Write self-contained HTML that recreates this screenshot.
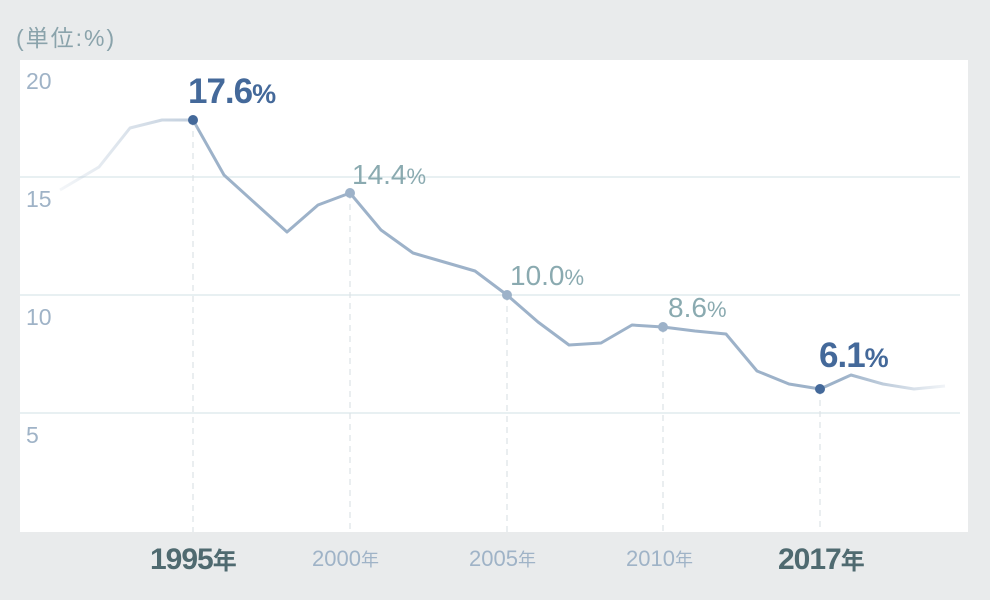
<!DOCTYPE html>
<html><head><meta charset="utf-8"><style>
body{margin:0;width:990px;height:600px;background:#e9ebec;overflow:hidden;font-family:"Liberation Sans","Noto Sans CJK JP",sans-serif}
</style></head><body>
<svg width="990" height="600" xmlns="http://www.w3.org/2000/svg" style="position:absolute;left:0;top:0;font-family:'Liberation Sans','Noto Sans CJK JP',sans-serif">
<defs>
<linearGradient id="g" x1="55" y1="0" x2="950" y2="0" gradientUnits="userSpaceOnUse">
<stop offset="0" stop-color="#9db2c9" stop-opacity="0.1"/>
<stop offset="0.15" stop-color="#9db2c9" stop-opacity="0.6"/>
<stop offset="0.16" stop-color="#9db2c9" stop-opacity="1"/>
<stop offset="0.88" stop-color="#9db2c9" stop-opacity="1"/>
<stop offset="1" stop-color="#9db2c9" stop-opacity="0.1"/>
</linearGradient>
</defs>
<text x="16" y="46" font-size="23" fill="#8aa3ab" letter-spacing="2">(単位:%)</text>
<rect x="20" y="60" width="948" height="472" fill="#fff"/>
<g stroke="#dbe7ea" stroke-width="1.2">
<line x1="20" y1="177" x2="960" y2="177"/><line x1="20" y1="295" x2="960" y2="295"/><line x1="20" y1="413" x2="960" y2="413"/>
</g>
<g stroke="#dde3e7" stroke-width="1.2" stroke-dasharray="6,5">
<line x1="193" y1="120" x2="193" y2="532"/><line x1="350" y1="193" x2="350" y2="532"/><line x1="507" y1="295" x2="507" y2="532"/><line x1="663" y1="327" x2="663" y2="532"/><line x1="820" y1="389" x2="820" y2="532"/>
</g>
<g font-size="23" fill="#9fb3c7">
<text x="26" y="89">20</text><text x="26" y="207">15</text><text x="26" y="325">10</text><text x="26" y="443">5</text>
</g>
<polyline fill="none" stroke="url(#g)" stroke-width="3" stroke-linejoin="round" points="60,190 99,167 130,128 162,120 193,120 224,175 256,204 287,232 318,205 350,193 381,230 413,253 444,262 475,271 507,295 538,322 569,345 601,343 632,325 663,327 695,331 726,334 757,371 789,384 820,389 851,375 883,384 914,389 945,386"/>
<circle cx="193" cy="120" r="5" fill="#44699a"/>
<circle cx="820" cy="389" r="5" fill="#44699a"/>
<circle cx="350" cy="193" r="5" fill="#9db2c9"/>
<circle cx="507" cy="295" r="5" fill="#9db2c9"/>
<circle cx="663" cy="327" r="5" fill="#9db2c9"/>
<text x="188" y="103" font-size="35" font-weight="bold" fill="#44699a" letter-spacing="-1">17.6<tspan font-size="27">%</tspan></text>
<text x="352" y="184" font-size="28" fill="#8aaab0">14.4<tspan font-size="22">%</tspan></text>
<text x="510" y="285" font-size="28" fill="#8aaab0">10.0<tspan font-size="22">%</tspan></text>
<text x="668" y="317" font-size="28" fill="#8aaab0">8.6<tspan font-size="22">%</tspan></text>
<text x="819" y="367" font-size="35" font-weight="bold" fill="#44699a" letter-spacing="-1">6.1<tspan font-size="27">%</tspan></text>
<text x="150" y="569" font-size="30" font-weight="bold" fill="#4f6a70" letter-spacing="-1">1995<tspan font-size="24">年</tspan></text>
<text x="312" y="566" font-size="22" fill="#9fb3c7">2000<tspan font-size="18">年</tspan></text>
<text x="469" y="566" font-size="22" fill="#9fb3c7">2005<tspan font-size="18">年</tspan></text>
<text x="626" y="566" font-size="22" fill="#9fb3c7">2010<tspan font-size="18">年</tspan></text>
<text x="778" y="569" font-size="30" font-weight="bold" fill="#4f6a70" letter-spacing="-1">2017<tspan font-size="24">年</tspan></text>
</svg>
</body></html>
